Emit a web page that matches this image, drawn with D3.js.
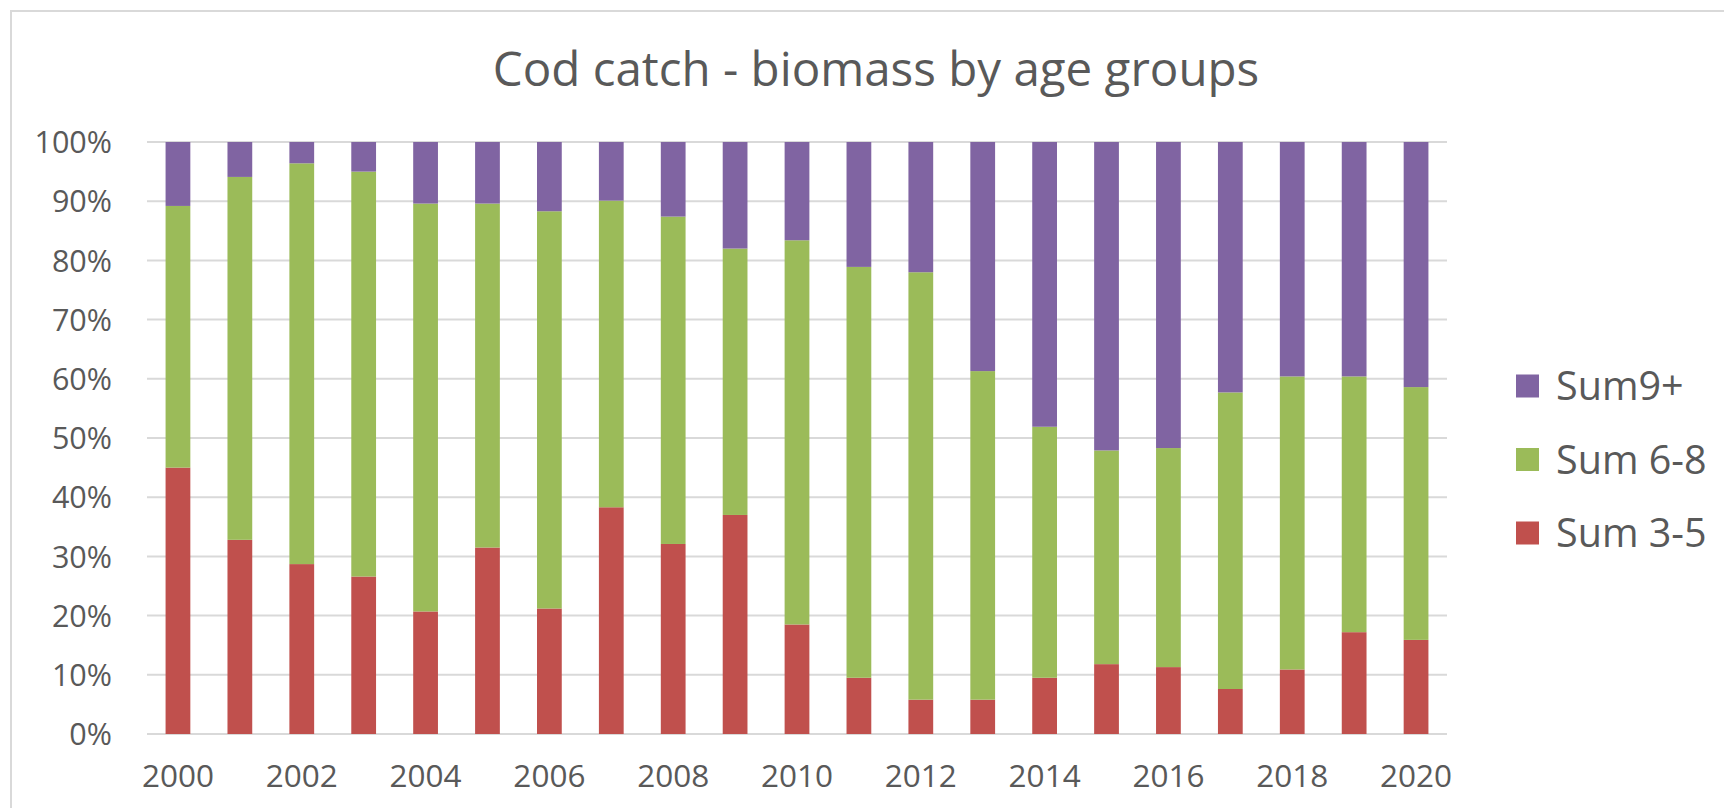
<!DOCTYPE html>
<html>
<head>
<meta charset="utf-8">
<script src="https://cdn.jsdelivr.net/npm/d3@7"></script>
<style>
  body { margin: 0; background: #fff; }
  text { font-family: "Open Sans", sans-serif; fill: #595959; }
</style>
</head>
<body>
<div id="chart"></div>
<script>
var width = 1724, height = 808;
var margin = {top: 142, right: 277, bottom: 74, left: 147};

// values, percent of each year's catch
var years = d3.range(2000, 2021);
var sum35 = [45.0, 32.8, 28.7, 26.6, 20.7, 31.5, 21.2, 38.3, 32.1, 37.0, 18.5, 9.5, 5.8, 5.8, 9.5, 11.8, 11.3, 7.6, 10.9, 17.2, 15.9];
var sum68 = [44.2, 61.3, 67.7, 68.4, 68.9, 58.1, 67.1, 51.8, 55.3, 45.0, 64.9, 69.4, 72.2, 55.5, 42.4, 36.1, 37.0, 50.1, 49.5, 43.2, 42.7];
var sum9p = [10.8, 5.9, 3.6, 5.0, 10.4, 10.4, 11.7, 9.9, 12.6, 18.0, 16.6, 21.1, 22.0, 38.7, 48.1, 52.1, 51.7, 42.3, 39.6, 39.6, 41.4];
var seriesNames = ['Sum 3-5', 'Sum 6-8', 'Sum9+'];
var seriesColors = ['#C0504D', '#9BBB59', '#8064A2'];
var yTicks = [0, 0.1, 0.2, 0.3, 0.4, 0.5, 0.6, 0.7, 0.8, 0.9, 1];

var rows = years.map((y, i) => ({year: y, 'Sum 3-5': sum35[i], 'Sum 6-8': sum68[i], 'Sum9+': sum9p[i]}));

var stacked = d3.stack()
  .keys(seriesNames)
  .offset(d3.stackOffsetExpand)(rows);

var svg = d3.select('#chart').append('svg')
  .attr('width', width)
  .attr('height', height);

// chart area border
svg.append('rect')
  .attr('x', 11).attr('y', 11)
  .attr('width', width + 20).attr('height', height + 20)
  .attr('fill', 'none')
  .attr('stroke', '#D9D9D9')
  .attr('stroke-width', 2);

var x = d3.scaleBand()
  .domain(years)
  .range([margin.left, width - margin.right])
  .paddingInner(0.6)
  .paddingOuter(0.3);

var y = d3.scaleLinear()
  .domain([0, 1])
  .range([height - margin.bottom, margin.top]);

svg.append('text')
  .attr('x', 876)
  .attr('y', 86)
  .attr('text-anchor', 'middle')
  .style('font-size', '47.5px')
  .text('Cod catch - biomass by age groups');

// gridlines
svg.append('g')
  .selectAll('line')
  .data(yTicks)
  .enter().append('line')
    .attr('x1', margin.left)
    .attr('x2', width - margin.right)
    .attr('y1', d => y(d))
    .attr('y2', d => y(d))
    .attr('stroke', '#D9D9D9')
    .attr('stroke-width', 2);

var yAxis = svg.append('g')
  .attr('transform', 'translate(' + (margin.left - 35) + ',0)')
  .call(d3.axisLeft(y).tickValues(yTicks).tickFormat(d3.format('.0%')).tickSize(0));
yAxis.select('.domain').remove();
yAxis.selectAll('text')
  .attr('x', 0)
  .attr('dy', '0.35em')
  .style('font-size', '30.5px')
  .attr('fill', '#595959');

svg.append('g')
  .selectAll('g')
  .data(stacked)
  .enter().append('g')
    .attr('fill', (d, i) => seriesColors[i])
  .selectAll('rect')
  .data(d => d)
  .enter().append('rect')
    .attr('x', d => x(d.data.year))
    .attr('width', x.bandwidth())
    .attr('y', d => y(d[1]))
    .attr('height', d => y(d[0]) - y(d[1]));

var xAxis = svg.append('g')
  .attr('transform', 'translate(0,' + (height - margin.bottom) + ')')
  .call(d3.axisBottom(x).tickValues(years.filter(d => d % 2 === 0)).tickSize(0));
xAxis.select('.domain').remove();
xAxis.selectAll('text')
  .attr('y', 42)
  .attr('dy', '0.35em')
  .style('font-size', '31.5px')
  .attr('fill', '#595959');

// legend, top entry is the top of the stack
var legend = svg.append('g')
  .selectAll('g')
  .data(seriesNames.slice().reverse())
  .enter().append('g')
    .attr('transform', (d, i) => 'translate(1516,' + (386 + i * 73.5) + ')');

legend.append('rect')
  .attr('x', 0)
  .attr('y', -11.5)
  .attr('width', 23)
  .attr('height', 23)
  .attr('fill', d => seriesColors[seriesNames.indexOf(d)]);

legend.append('text')
  .attr('x', 40)
  .attr('dy', '0.36em')
  .style('font-size', '39.5px')
  .text(d => d);
</script>
</body>
</html>
